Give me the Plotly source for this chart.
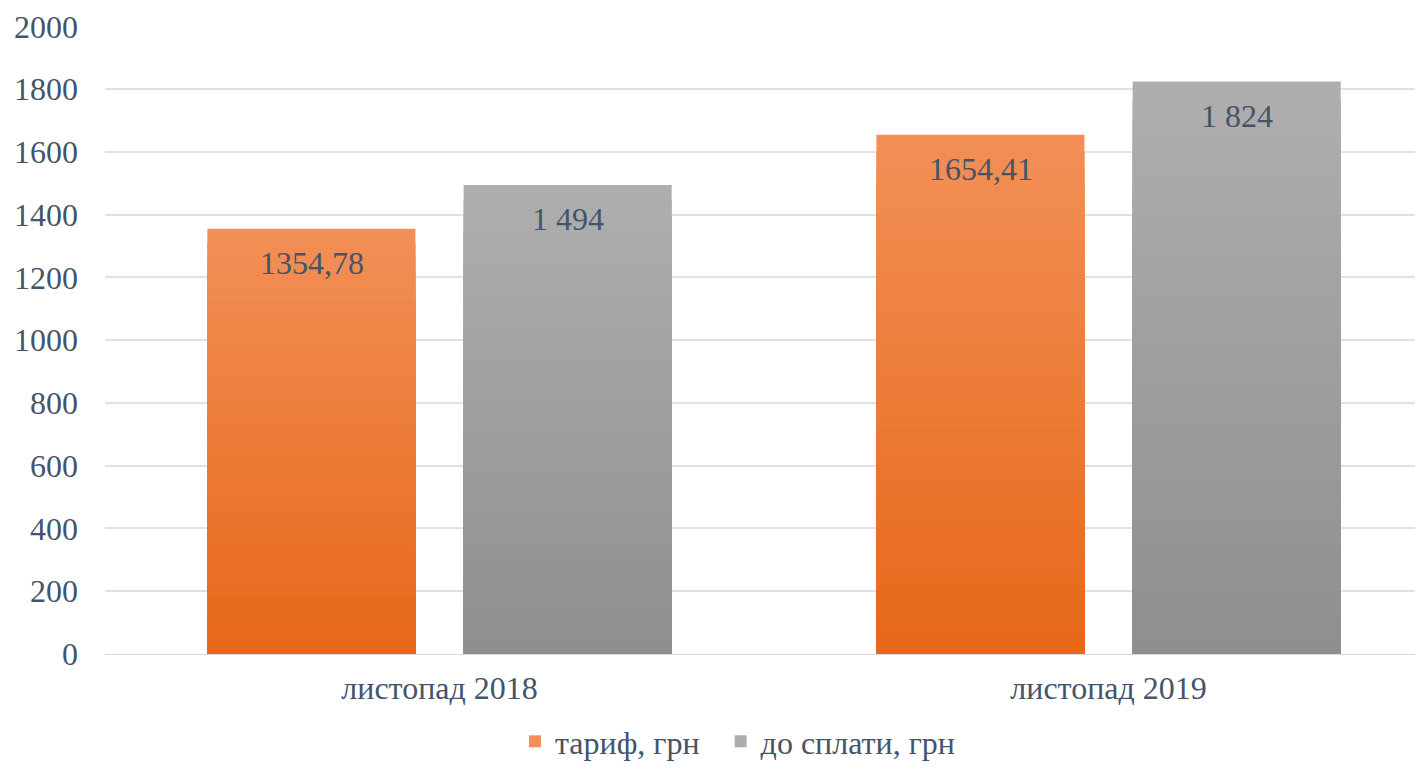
import plotly.graph_objects as go

categories = ["листопад 2018", "листопад 2019"]
tariff = [1354.78, 1654.41]
payable = [1494, 1824]
tariff_labels = ["1354,78", "1654,41"]
payable_labels = ["1 494", "1 824"]
y_ticks = [0, 200, 400, 600, 800, 1000, 1200, 1400, 1600, 1800, 2000]

TEXT = "#44546A"
FONT = "Liberation Serif, Times New Roman, serif"
FS = 32

def lerp(c1, c2, t):
    return "rgb(%d,%d,%d)" % tuple(round(a + (b - a) * t) for a, b in zip(c1, c2))

series = [
    ("тариф, грн", tariff, tariff_labels, (0xF2, 0x8F, 0x56), (0xE6, 0x67, 0x16), -0.347, -128),
    ("до сплати, грн", payable, payable_labels, (0xAE, 0xAE, 0xAE), (0x8E, 0x8E, 0x8E), 0.036, 128),
]

fig = go.Figure()
N = 30
for k, (name, vals, labels, top, bot, off, xs) in enumerate(series):
    legend_name = name + ("\u00a0\u00a0" if k == 0 else "")
    for i in range(N):
        frac = 1 - i / N
        color = lerp(bot, top, frac)
        fig.add_trace(go.Bar(
            x=categories, y=[v * frac for v in vals],
            name=legend_name, legendgroup=name, showlegend=(i == 0),
            marker=dict(color=color, line=dict(width=0)),
            offset=off, width=0.311,
            hoverinfo="skip" if i > 0 else None,
        ))
    for c, v, lab in zip(categories, vals, labels):
        fig.add_annotation(x=c, y=v, text=lab, showarrow=False,
                           xshift=xs, yshift=-34, yanchor="middle",
                           font=dict(family=FONT, size=FS, color=TEXT))

fig.update_layout(
    width=1415, height=761,
    barmode="overlay",
    paper_bgcolor="white", plot_bgcolor="white",
    margin=dict(l=97, r=0, t=18, b=115, autoexpand=False),
    font=dict(family=FONT, size=FS, color=TEXT),
    showlegend=True,
    legend=dict(orientation="h", xref="container", x=0.5155, xanchor="center",
                yref="container", y=-0.02, yanchor="bottom",
                font=dict(family=FONT, size=FS, color=TEXT),
                itemwidth=30, traceorder="normal"),
)
fig.update_xaxes(type="category", range=[-0.5, 1.47], showgrid=False, automargin=False,
                 showline=True, linecolor="#D9D9D9", linewidth=1,
                 ticks="", ticklabelstandoff=6,
                 tickfont=dict(family=FONT, size=FS, color=TEXT))
fig.update_yaxes(range=[0, 2001], tickvals=y_ticks, showgrid=True, automargin=False,
                 gridcolor="#DEE2E8", gridwidth=1.5, zeroline=False,
                 showline=False, ticks="", ticklabelstandoff=26,
                 tickfont=dict(family=FONT, size=FS, color=TEXT))

fig.write_html("out.html")
